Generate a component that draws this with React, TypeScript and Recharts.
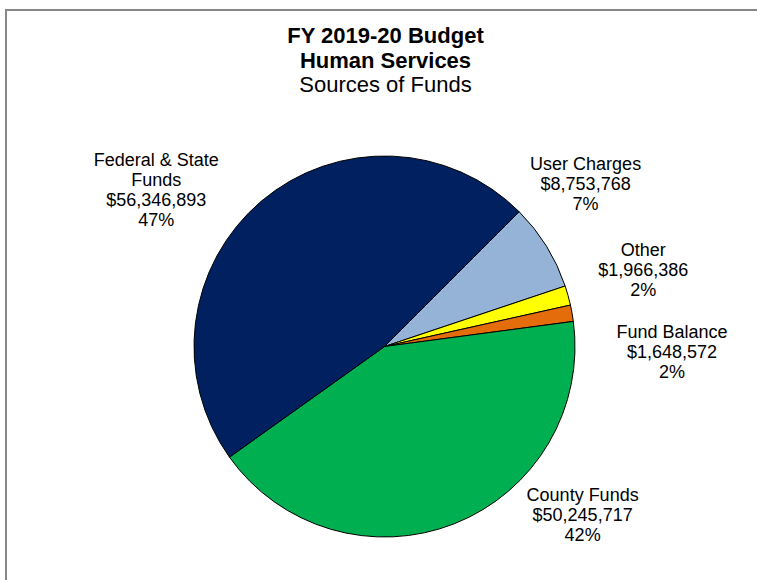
import { PieChart, Pie, Cell } from "recharts";

// slices in clockwise order, starting at the User Charges edge
const sources = ["User Charges", "Other", "Fund Balance", "County Funds", "Federal & State Funds"];
const amounts = [8753768, 1966386, 1648572, 50245717, 56346893];
const percentLabels = ["7%", "2%", "2%", "42%", "47%"];
const nameLines = [["User Charges"], ["Other"], ["Fund Balance"], ["County Funds"], ["Federal & State", "Funds"]];
const colors = ["#95B3D7", "#FFFF00", "#E46C0A", "#00B050", "#002060"];

const titleLines = ["FY 2019-20 Budget", "Human Services", "Sources of Funds"];

const data = sources.map((name, i) => ({ name, value: amounts[i] }));

// where each label block sits: angle offset from slice middle and distance from centre
const labelPlace = [
	{ turn: 7.3, dist: 259 },
	{ turn: 1, dist: 270 },
	{ turn: -11, dist: 287.5 },
	{ turn: 28.1, dist: 260 },
	{ turn: 15.2, dist: 277 },
];

const RAD = Math.PI / 180;
const FONT = "'Liberation Sans', Arial, sans-serif";

const renderLabel = (props: any) => {
	const { cx, cy, midAngle, index } = props;
	const place = labelPlace[index];
	const a = (midAngle + place.turn) * RAD;
	const x = cx + place.dist * Math.cos(a);
	const y = cy - place.dist * Math.sin(a);
	const lines = [...nameLines[index], "$" + amounts[index].toLocaleString("en-US"), percentLabels[index]];
	const firstY = y - ((lines.length - 1) * 20) / 2 + 6.5;
	return (
		<text x={x} y={firstY} textAnchor="middle" fontSize={18} fontFamily={FONT} fill="#000">
			{lines.map((l, i) => (
				<tspan key={i} x={x} dy={i === 0 ? 0 : 20}>
					{l}
				</tspan>
			))}
		</text>
	);
};

const App = () => {
	return (
		<div style={{ position: "absolute", left: 0, top: 0, width: 757, height: 580, background: "#fff" }}>
			<div
				style={{
					position: "absolute",
					left: 5,
					top: 9,
					width: 760,
					height: 580,
					borderTop: "2px solid #888",
					borderLeft: "2px solid #888",
				}}
			/>
			<div
				style={{
					position: "absolute",
					left: 0,
					top: 24,
					width: 771,
					textAlign: "center",
					fontFamily: FONT,
					fontSize: 22,
					lineHeight: "24.5px",
					color: "#000",
				}}
			>
				<div style={{ fontWeight: "bold" }}>{titleLines[0]}</div>
				<div style={{ fontWeight: "bold" }}>{titleLines[1]}</div>
				<div>{titleLines[2]}</div>
			</div>
			<div style={{ position: "absolute", left: 0, top: 0 }}>
				<PieChart width={757} height={580} margin={{ top: 0, right: 0, bottom: 0, left: 0 }}>
					<Pie
						data={data}
						dataKey="value"
						nameKey="name"
						cx={384.5}
						cy={346.5}
						outerRadius={190.5}
						startAngle={45}
						endAngle={-315}
						stroke="#000"
						strokeWidth={1}
						label={renderLabel}
						labelLine={false}
						isAnimationActive={false}
					>
						{data.map((d, i) => (
							<Cell key={d.name} fill={colors[i]} />
						))}
					</Pie>
				</PieChart>
			</div>
		</div>
	);
};

export default App;
